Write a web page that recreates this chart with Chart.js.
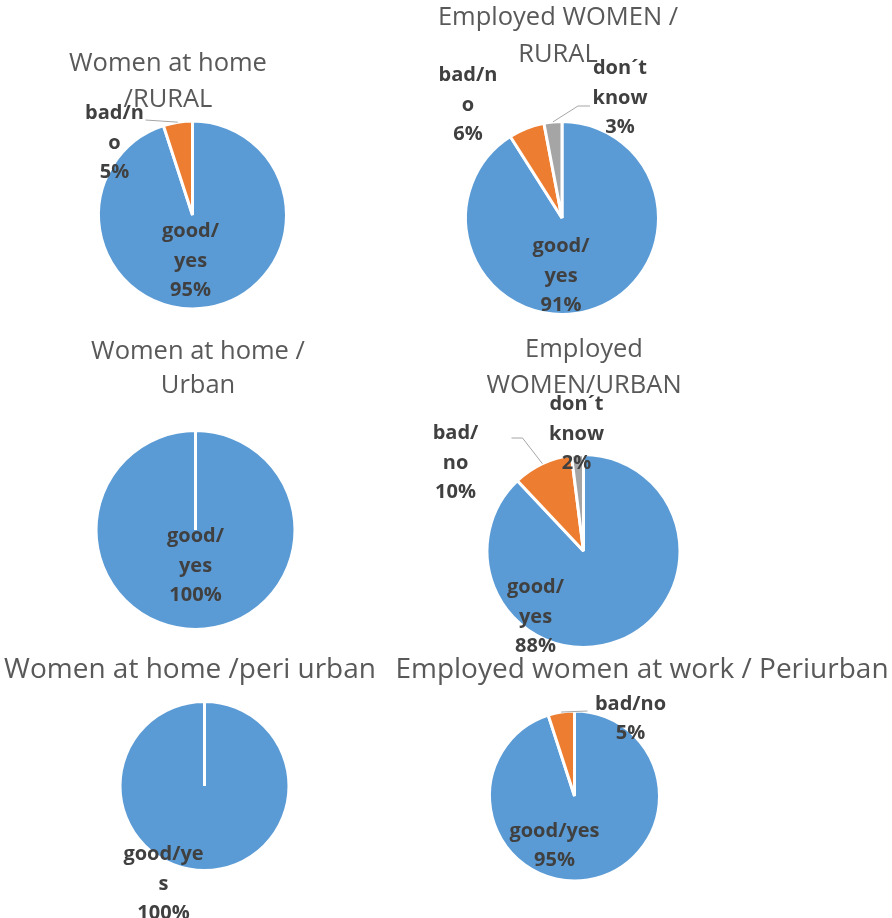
<!DOCTYPE html>
<html>
<head>
<meta charset="utf-8">
<script src="https://cdn.jsdelivr.net/npm/chart.js@4.4.1/dist/chart.umd.min.js"></script>
<style>
  html, body { margin: 0; padding: 0; background: #fff; }
  #wrap { position: relative; width: 892px; height: 918px; overflow: hidden; }
  #wrap canvas { position: absolute; left: 0; top: 0; }
</style>
</head>
<body>
<div id="wrap"></div>
<script>
// categories and values (percent)
const categories = ['good/yes', 'bad/no', 'don´t know'];
const homeRural = [95, 5];
const workRural = [91, 6, 3];
const homeUrban = [100];
const workUrban = [88, 10, 2];
const homePeri = [100];
const workPeri = [95, 5];

const sliceColors = ['#5B9BD5', '#ED7D31', '#A5A5A5'];

const W = 892, H = 918;

// one entry per pie: center/radius of the pie on the page,
// title lines, and where each data label sits (offset from pie center)
const charts = [
  {
    data: homeRural, center: [192.5, 215], r: 94,
    title: { x: 168, y: [64, 100], size: 25.5, lines: ['Women at home', '/RURAL'] },
    labels: [
      { lines: ['good/', 'yes'], dx: -2, dy: 46 },
      { lines: ['bad/n', 'o'], dx: -78, dy: -72, leader: [[-47, -95]] }
    ]
  },
  {
    data: workRural, center: [562, 218], r: 96.5,
    title: { x: 558, y: [18, 55], size: 25.5, lines: ['Employed WOMEN /', 'RURAL'] },
    labels: [
      { lines: ['good/', 'yes'], dx: -1, dy: 58 },
      { lines: ['bad/n', 'o'], dx: -94, dy: -113 },
      { lines: ['don´t', 'know'], dx: 58, dy: -120, leader: [[28, -112], [16, -112]] }
    ]
  },
  {
    data: homeUrban, center: [195.5, 530], r: 99.5,
    title: { x: 198, y: [352, 386], size: 25.5, lines: ['Women at home /', 'Urban'] },
    labels: [
      { lines: ['good/', 'yes'], dx: 0, dy: 36 }
    ]
  },
  {
    data: workUrban, center: [583.5, 551], r: 96.5,
    title: { x: 584, y: [350, 386], size: 25.5, lines: ['Employed', 'WOMEN/URBAN'] },
    labels: [
      { lines: ['good/', 'yes'], dx: -48, dy: 66 },
      { lines: ['bad/', 'no'], dx: -128, dy: -88, leader: [[-72, -113], [-61, -113]], leaderTo: 1 },
      { lines: ['don´t', 'know'], dx: -7, dy: -117 }
    ]
  },
  {
    data: homePeri, center: [204.5, 786], r: 84.5,
    title: { x: 190, y: [670], size: 28, lines: ['Women at home /peri urban'] },
    labels: [
      { lines: ['good/ye', 's'], dx: -41, dy: 98 }
    ]
  },
  {
    data: workPeri, center: [574.5, 796], r: 85,
    title: { x: 642, y: [670], size: 28, lines: ['Employed women at work / Periurban'] },
    labels: [
      { lines: ['good/yes'], dx: -20, dy: 50 },
      { lines: ['bad/no'], dx: 56, dy: -77, leader: [[13, -85]] }
    ]
  }
];

// draws titles, data labels and leader lines on top of the arcs
const pieText = {
  id: 'pieText',
  afterDatasetsDraw(chart, args, opts) {
    const ctx = chart.ctx;
    const spec = opts.spec;
    const arcs = chart.getDatasetMeta(0).data;
    const vals = chart.data.datasets[0].data;
    ctx.save();
    ctx.textAlign = 'center';
    ctx.textBaseline = 'middle';

    // title
    ctx.fillStyle = '#595959';
    ctx.font = spec.title.size + 'px "Open Sans"';
    spec.title.lines.forEach((t, i) => {
      ctx.fillText(t, spec.title.x, spec.title.y[i]);
    });

    // labels
    spec.labels.forEach((lab, i) => {
      const p = arcs[i].getProps(['x', 'y'], true);
      if (lab.leader) {
        const target = arcs[lab.leaderTo !== undefined ? lab.leaderTo : i];
        const q = target.getProps(['x', 'y', 'startAngle', 'endAngle', 'outerRadius'], true);
        const mid = (q.startAngle + q.endAngle) / 2;
        ctx.strokeStyle = '#A6A6A6';
        ctx.lineWidth = 1;
        ctx.beginPath();
        lab.leader.forEach(([dx, dy], k) => {
          if (k === 0) ctx.moveTo(p.x + dx, p.y + dy);
          else ctx.lineTo(p.x + dx, p.y + dy);
        });
        ctx.lineTo(q.x + Math.cos(mid) * q.outerRadius, q.y + Math.sin(mid) * q.outerRadius);
        ctx.stroke();
      }
      const lines = lab.lines.concat([vals[i] + '%']);
      const lh = 29.5;
      ctx.fillStyle = '#404040';
      ctx.font = 'bold 20px "Open Sans"';
      const y0 = p.y + lab.dy - (lines.length - 1) * lh / 2;
      lines.forEach((t, k) => ctx.fillText(t, p.x + lab.dx, y0 + k * lh));
    });
    ctx.restore();
  }
};

const wrap = document.getElementById('wrap');
charts.forEach(spec => {
  const canvas = document.createElement('canvas');
  canvas.width = W;
  canvas.height = H;
  wrap.appendChild(canvas);

  const [cx, cy] = spec.center;
  new Chart(canvas, {
    type: 'pie',
    data: {
      labels: categories.slice(0, spec.data.length),
      datasets: [{
        data: spec.data,
        backgroundColor: sliceColors.slice(0, spec.data.length),
        borderColor: '#FFFFFF',
        borderWidth: 3
      }]
    },
    options: {
      responsive: false,
      animation: false,
      events: [],
      radius: spec.r,
      // place the chart area so that its center is the pie center
      layout: {
        padding: {
          left: Math.max(0, 2 * cx - W),
          right: Math.max(0, W - 2 * cx),
          top: Math.max(0, 2 * cy - H),
          bottom: Math.max(0, H - 2 * cy)
        }
      },
      plugins: {
        legend: { display: false },
        tooltip: { enabled: false },
        pieText: { spec }
      }
    },
    plugins: [pieText]
  });
});
</script>
</body>
</html>
